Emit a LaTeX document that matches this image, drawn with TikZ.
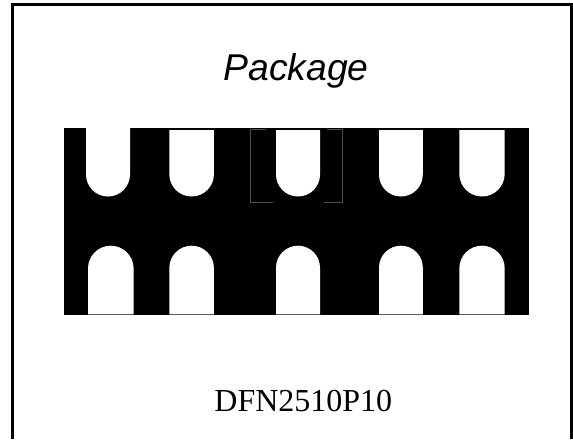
\documentclass[tikz,border=0pt]{standalone}
\usepackage{fontspec}
\setmainfont{Liberation Serif}
\setsansfont{Liberation Sans}
\tikzset{
  padhole/.style={fill=white,draw=none},
  markline/.style={draw=black!70!white,line width=0.5pt}
}
\begin{document}
\begin{tikzpicture}[x=0.75pt,y=-0.75pt]
\useasboundingbox (0,0) rectangle (573,439);
        \draw [black,line width=2.25pt,line cap=butt] (12.5,439) -- (12.5,4.5) -- (571.5,4.5) -- (571.5,439);
        \node[inner sep=0pt,anchor=base] (title) at (296,80) {\sffamily\itshape\fontsize{28pt}{28pt}\selectfont Package};
        \fill [black] (64,127.5) rectangle (528.7,315.3);
        \foreach \xl/\rad/\ytop in {86/22/128,169.3/22.3/130,276/22/130,379/21.9/130,459.3/22.7/130} {
                \fill [padhole] (\xl,\ytop) -- (\xl,{196.5-\rad}) arc[start angle=180,end angle=0,radius=\rad] -- ({\xl+2*\rad},\ytop) -- cycle;
		}
        \foreach \xl/\rad in {88/22.8,169.3/22.3,276/22,379/21.9,459.3/22.7} {
                \fill [padhole] (\xl,314.4) -- (\xl,{245.7+\rad}) arc[start angle=180,end angle=360,radius=\rad] -- ({\xl+2*\rad},314.4) -- cycle;
		}
        \draw [markline] (266,129) -- (250.8,129) -- (250.8,202.7) -- (272.5,202.7);
        \draw [markline] (326.5,129) -- (342.5,129) -- (342.5,202.7) -- (323.5,202.7);
        \node[inner sep=0pt,anchor=base] (partname) at (303.3,411.7) {\fontsize{24pt}{24pt}\selectfont DFN2510P10};
\end{tikzpicture}
\end{document}
